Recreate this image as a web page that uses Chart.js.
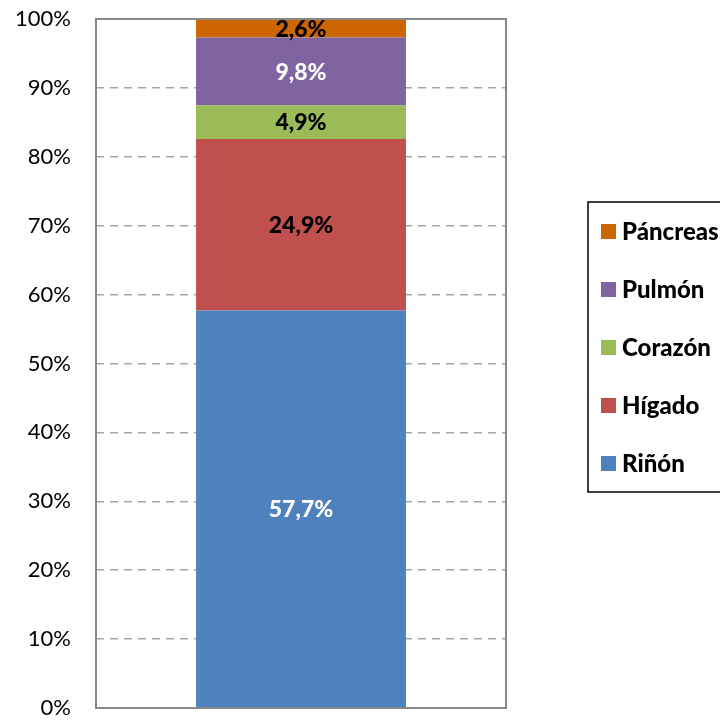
<!DOCTYPE html>
<html>
<head>
<meta charset="utf-8">
<script src="https://cdn.jsdelivr.net/npm/chart.js@4"></script>
<style>
  html, body { margin: 0; padding: 0; background: #fff; overflow: hidden; }
  #wrap { width: 720px; height: 720px; }
</style>
</head>
<body>
<div id="wrap"><canvas id="chart" width="720" height="720"></canvas></div>
<script>
// Data (percent of total, stacked bottom to top)
const categories = [''];
const seriesNames = ['Riñón', 'Hígado', 'Corazón', 'Pulmón', 'Páncreas'];
const seriesValues = [57.7, 24.9, 4.9, 9.8, 2.6];
const seriesColors = ['#4F81BD', '#C0504D', '#9BBB59', '#8064A2', '#CC6600'];
const labelColors = ['#FFFFFF', '#000000', '#000000', '#FFFFFF', '#000000'];
const yTicks = [0, 10, 20, 30, 40, 50, 60, 70, 80, 90, 100];

const FONT = 'Lato, Calibri, "Open Sans", sans-serif';

// Value labels centred in each segment
const segmentLabels = {
  id: 'segmentLabels',
  afterDatasetsDraw(chart) {
    const ctx = chart.ctx;
    ctx.save();
    ctx.font = '900 23px ' + FONT;
    ctx.textAlign = 'center';
    ctx.textBaseline = 'middle';
    chart.data.datasets.forEach((ds, i) => {
      const meta = chart.getDatasetMeta(i);
      meta.data.forEach((bar, j) => {
        const v = ds.data[j];
        ctx.fillStyle = labelColors[i];
        const y = (bar.y + bar.base) / 2;
        ctx.fillText(v.toFixed(1).replace('.', ',') + '%', bar.x, y + 1);
      });
    });
    ctx.restore();
  }
};

// Box round the plot area
const plotBorder = {
  id: 'plotBorder',
  afterDatasetsDraw(chart) {
    const a = chart.chartArea;
    const ctx = chart.ctx;
    ctx.save();
    ctx.strokeStyle = '#888888';
    ctx.lineWidth = 2;
    ctx.strokeRect(a.left, a.top, a.right - a.left, a.bottom - a.top);
    ctx.restore();
  }
};

// Boxed legend on the right, top item = last series
const boxLegend = {
  id: 'boxLegend',
  afterDraw(chart) {
    const ctx = chart.ctx;
    const left = 588, top = 202, bottom = 492;
    ctx.save();
    ctx.strokeStyle = '#000000';
    ctx.lineWidth = 1.5;
    ctx.strokeRect(left, top, 720 - left + 5, bottom - top);
    ctx.font = '900 24px ' + FONT;
    ctx.textBaseline = 'middle';
    ctx.textAlign = 'left';
    const n = chart.data.datasets.length;
    for (let k = 0; k < n; k++) {
      const i = n - 1 - k;
      const ds = chart.data.datasets[i];
      const cy = 231 + k * 58;
      ctx.fillStyle = ds.backgroundColor;
      ctx.fillRect(601, cy - 7, 15, 15);
      ctx.fillStyle = '#000000';
      ctx.fillText(ds.label, 622, cy + 1);
    }
    ctx.restore();
  }
};

const datasets = seriesNames.map((name, i) => ({
  label: name,
  data: [seriesValues[i]],
  backgroundColor: seriesColors[i],
  borderWidth: 0,
  barPercentage: 0.512,
  categoryPercentage: 1
}));

new Chart(document.getElementById('chart'), {
  type: 'bar',
  data: { labels: categories, datasets: datasets },
  options: {
    responsive: false,
    animation: false,
    layout: { padding: { top: 19, right: 214, bottom: 12, left: 0 } },
    plugins: {
      legend: { display: false },
      tooltip: { enabled: false }
    },
    scales: {
      x: {
        stacked: true,
        display: false
      },
      y: {
        stacked: true,
        min: 0,
        max: 100,
        afterBuildTicks: (scale) => {
          scale.ticks = yTicks.map(v => ({ value: v }));
        },
        afterFit: (scale) => {
          scale.width = 96;
          scale.paddingTop = 0;
          scale.paddingBottom = 0;
        },
        border: { display: false, dash: [8, 6] },
        grid: {
          drawTicks: false,
          color: (c) => (c.tick && (c.tick.value === 0 || c.tick.value === 100)) ? 'rgba(0,0,0,0)' : '#A6A6A6',
          lineWidth: 1.5
        },
        ticks: {
          padding: 25,
          color: '#000000',
          font: { family: FONT, size: 22 },
          callback: (v) => v + '%'
        }
      }
    }
  },
  plugins: [segmentLabels, plotBorder, boxLegend]
});
</script>
</body>
</html>
